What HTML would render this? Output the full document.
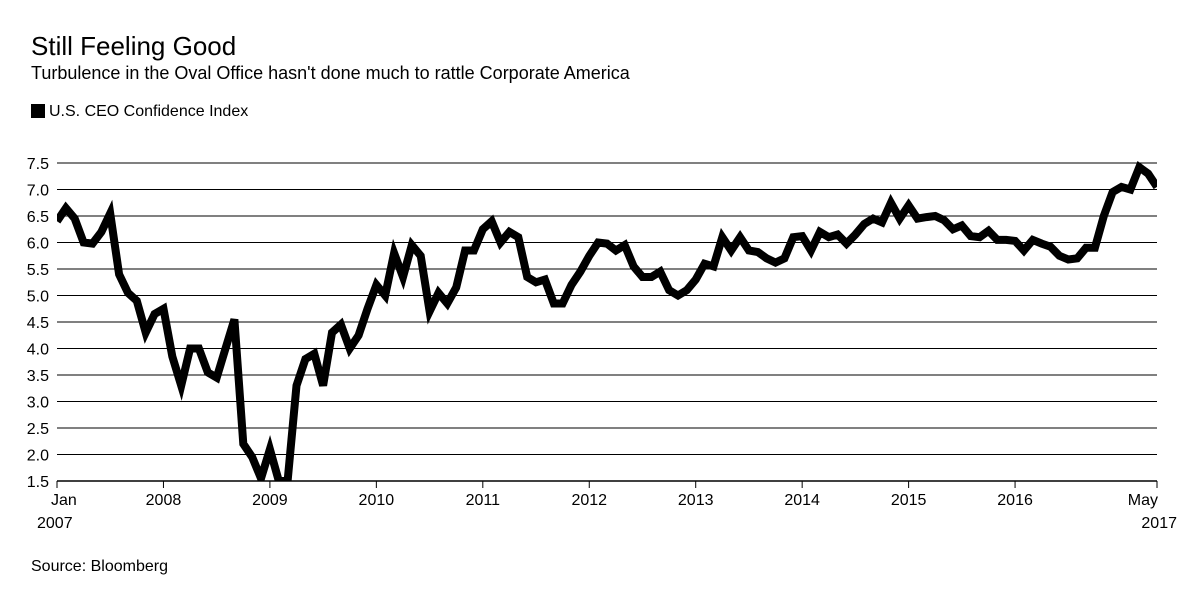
<!DOCTYPE html>
<html><head><meta charset="utf-8"><style>
body{margin:0;background:#fff;font-family:"Liberation Sans",Arial,sans-serif;color:#000}
#wrap{position:relative;width:1200px;height:611px;overflow:hidden}
.t{position:absolute;white-space:nowrap}
</style></head><body>
<div id="wrap">
<div class="t" style="left:31px;top:31px;font-size:26px">Still Feeling Good</div>
<div class="t" style="left:31px;top:63px;font-size:18px">Turbulence in the Oval Office hasn't done much to rattle Corporate America</div>
<div class="t" style="left:31px;top:103px;font-size:16px"><span style="display:inline-block;width:14px;height:14px;background:#000;vertical-align:-2px;margin-right:4px"></span>U.S. CEO Confidence Index</div>
<svg id="chart" width="1200" height="611" style="position:absolute;left:0;top:0"></svg>
<div class="t" style="left:31px;top:558px;font-size:16px">Source: Bloomberg</div>
</div>
<script>
const startYear = 2007;
const values = [
6.4,6.65,6.45,6.0,5.98,6.2,6.55,5.4,5.05,4.9,4.3,4.65,
4.75,3.85,3.3,4.0,4.0,3.55,3.45,4.0,4.55,2.2,1.95,1.55,
2.1,1.5,1.5,3.3,3.8,3.9,3.3,4.3,4.45,4.0,4.25,4.75,
5.2,5.0,5.8,5.35,5.95,5.75,4.7,5.05,4.85,5.15,5.85,5.85,
6.25,6.4,6.0,6.2,6.1,5.35,5.25,5.3,4.85,4.85,5.2,5.45,
5.75,6.0,5.98,5.85,5.95,5.55,5.35,5.35,5.45,5.1,5.0,5.1,
5.3,5.6,5.55,6.1,5.85,6.1,5.85,5.82,5.7,5.62,5.7,6.1,
6.12,5.85,6.2,6.1,6.15,5.98,6.15,6.35,6.45,6.38,6.75,6.45,
6.7,6.45,6.48,6.5,6.42,6.25,6.32,6.12,6.1,6.22,6.05,6.05,
6.03,5.85,6.05,5.98,5.92,5.75,5.68,5.7,5.9,5.9,6.5,6.95,
7.05,7.0,7.42,7.3,7.05];
const yTicks = [1.5,2.0,2.5,3.0,3.5,4.0,4.5,5.0,5.5,6.0,6.5,7.0,7.5];
const yearLabels = ["2008","2009","2010","2011","2012","2013","2014","2015","2016"];
const NS="http://www.w3.org/2000/svg";
const svg=document.getElementById('chart');
const X0=57,X1=1157,Y0=481,Y1=163,ymin=1.5,ymax=7.5;
const n=values.length;
const x=i=>X0+(X1-X0)*i/(n-1);
const y=v=>Y0-(Y0-Y1)*(v-ymin)/(ymax-ymin);
function mk(t,a){const e=document.createElementNS(NS,t);for(const k in a)e.setAttribute(k,a[k]);svg.appendChild(e);return e;}
yTicks.forEach(v=>{
  const g=mk('line',{x1:X0,x2:X1,y1:y(v),y2:y(v),stroke:'#000','stroke-width':v===ymin?1.5:1});
  
  
  const t=mk('text',{x:49,y:y(v)+6,'text-anchor':'end','font-size':16,'font-family':'Liberation Sans, Arial, sans-serif'});
  t.textContent=v.toFixed(1);
  
  
});
function xtick(i){const l=mk('line',{x1:x(i),x2:x(i),y1:Y0,y2:Y0+7,stroke:'#000','stroke-width':1});

}
xtick(0);xtick(n-1);
yearLabels.forEach((lab,k)=>{
  const i=(parseInt(lab)-startYear)*12;
  xtick(i);
  const t=mk('text',{x:x(i),y:505,'text-anchor':'middle','font-size':16,'font-family':'Liberation Sans, Arial, sans-serif'});
  t.textContent=lab;
  
  
});
[["Jan",X0-6,505,'start'],["2007",X0-20,528,'start'],["May",X1+1,505,'end'],["2017",X1+20,528,'end']].forEach(a=>{
  const t=mk('text',{x:a[1],y:a[2],'text-anchor':a[3],'font-size':16,'font-family':'Liberation Sans, Arial, sans-serif'});
  t.textContent=a[0];
  
  
});
const defs=mk('defs',{});
const cp=document.createElementNS(NS,'clipPath');cp.setAttribute('id','clip');
const r=document.createElementNS(NS,'rect');r.setAttribute('x',X0);r.setAttribute('y',140);r.setAttribute('width',X1-X0);r.setAttribute('height',Y0-140);
cp.appendChild(r);defs.appendChild(cp);
const p=mk('path',{d:values.map((v,i)=>(i?'L':'M')+x(i).toFixed(1)+','+y(v).toFixed(1)).join(''),fill:'none',stroke:'#000','stroke-width':8,'stroke-linejoin':'miter','clip-path':'url(#clip)'});


</script>
</body></html>
